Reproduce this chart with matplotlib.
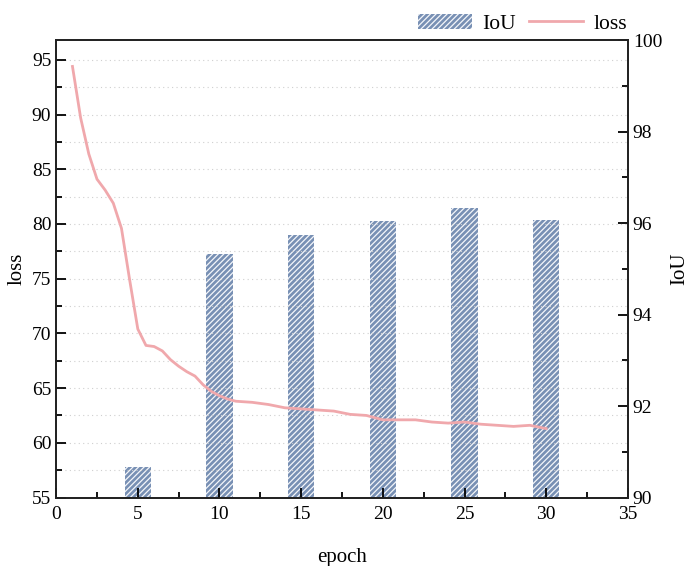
import matplotlib
matplotlib.use("Agg")
import matplotlib.pyplot as plt
from matplotlib.ticker import MultipleLocator

plt.rcParams['font.family'] = ['Liberation Serif', 'DejaVu Serif']
plt.rcParams['hatch.linewidth'] = 0.9

epochs = [1, 1.5, 2, 2.5, 3, 3.5, 4, 4.5, 5, 5.5, 6, 6.5, 7, 7.5, 8, 8.5, 9, 9.5, 10, 10.5,
          11, 12, 13, 14, 15, 16, 17, 18, 19, 20,
          21, 22, 23, 24, 25, 26, 27, 28, 29, 30]
loss = [94.4, 89.7, 86.4, 84.1, 83.1, 81.9, 79.6, 74.9, 70.4, 68.9, 68.8, 68.4, 67.6, 67.0, 66.5, 66.1, 65.3, 64.7, 64.3, 64.0,
        63.8, 63.7, 63.5, 63.2, 63.1, 63.0, 62.9, 62.6, 62.5, 62.1,
        62.1, 62.1, 61.9, 61.8, 61.9, 61.7, 61.6, 61.5, 61.6, 61.3]
iou_epochs = [5, 10, 15, 20, 25, 30]
iou = [90.66, 95.32, 95.75, 96.04, 96.32, 96.06]

fig = plt.figure(figsize=(6.93, 5.66), dpi=100)
ax = fig.add_axes([0.081, 0.121, 0.825, 0.808])
ax2 = ax.twinx()

bars = ax2.bar(iou_epochs, iou, width=1.6, color='#7890B4', edgecolor='#F4F6FA',
               hatch='//////', linewidth=0, label='IoU')
ax2.set_ylim(90, 100)
ax2.yaxis.set_major_locator(MultipleLocator(2))
ax2.yaxis.set_minor_locator(MultipleLocator(1))
ax2.set_ylabel('IoU', fontsize=15, labelpad=6)

line, = ax.plot(epochs, loss, color='#F0A8AC', lw=2, label='loss')
ax.set_zorder(ax2.get_zorder() + 1)
ax.patch.set_visible(False)
ax.set_xlim(0, 35)
ax.set_ylim(55, 96.8)
ax.xaxis.set_major_locator(MultipleLocator(5))
ax.xaxis.set_minor_locator(MultipleLocator(2.5))
ax.yaxis.set_major_locator(MultipleLocator(5))
ax.yaxis.set_minor_locator(MultipleLocator(2.5))
ax.grid(True, which='both', axis='y', linestyle=(0, (1, 3)), color='#CFCFCF', lw=0.8)
ax.set_xlabel('epoch', fontsize=15, labelpad=18)
ax.set_ylabel('loss', fontsize=15, labelpad=4)

for a in (ax, ax2):
    a.tick_params(which='both', direction='in', labelsize=14, width=1.3, top=False)
    a.tick_params(which='major', length=7)
    a.tick_params(which='minor', length=4)
    for s in a.spines.values():
        s.set_linewidth(1.3)
        s.set_color('#222222')
ax.tick_params(axis='x', pad=6)
ax.tick_params(axis='y', which='both', right=False)

fig.legend([bars, line], ['IoU', 'loss'], loc='upper right', bbox_to_anchor=(0.933, 1.01),
           ncol=2, frameon=False, fontsize=15.5, handlelength=2.5, columnspacing=0.6,
           handletextpad=0.5)

fig.savefig('out.png', dpi=100)
